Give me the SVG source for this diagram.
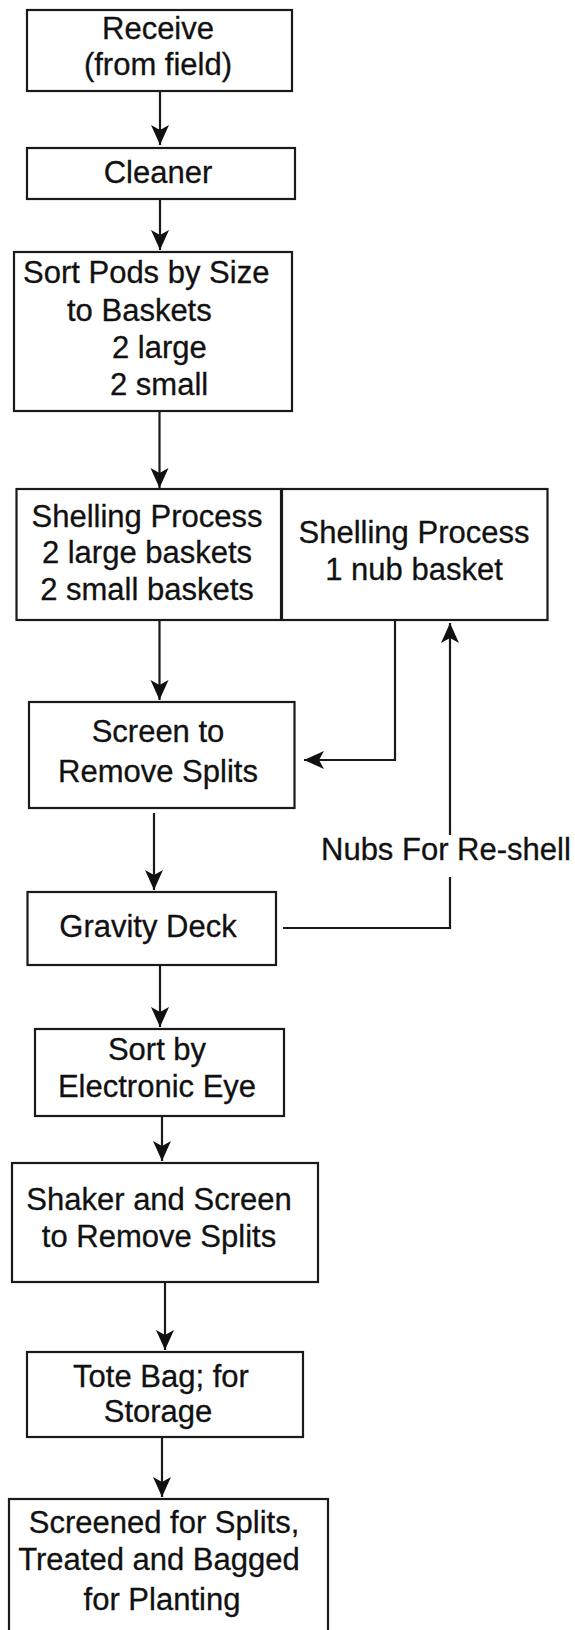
<svg xmlns="http://www.w3.org/2000/svg" width="575" height="1630" viewBox="0 0 575 1630">
<style>
.box{fill:#fff;stroke:#1a1a1a;stroke-width:2.2}
.t{font-family:"Liberation Sans",Arial,Helvetica,sans-serif;font-size:31px;fill:#111;text-anchor:middle;stroke:#111;stroke-width:0.3}
.ts{font-family:"Liberation Sans",Arial,Helvetica,sans-serif;font-size:31px;fill:#111;text-anchor:start;stroke:#111;stroke-width:0.3}
.c{fill:none;stroke:#1a1a1a;stroke-width:2.2}
</style>
<defs>
<marker id="ah" markerWidth="22" markerHeight="20" refX="20" refY="9" orient="auto" markerUnits="userSpaceOnUse">
<path d="M0,0 L20,9 L0,18 L5,9 Z" fill="#111"/>
</marker>
</defs>
<rect width="575" height="1630" fill="#fff"/>
<g id="connectors">
<path class="c" d="M160,91 V145" marker-end="url(#ah)"/>
<path class="c" d="M160,199 V250" marker-end="url(#ah)"/>
<path class="c" d="M159.5,411 V488" marker-end="url(#ah)"/>
<path class="c" d="M159.5,620 V700" marker-end="url(#ah)"/>
<path class="c" d="M395,620 V760 H304" marker-end="url(#ah)"/>
<path class="c" d="M154,813 V890" marker-end="url(#ah)"/>
<path class="c" d="M283,928 H450 V877 M450,835 V623" marker-end="url(#ah)"/>
<path class="c" d="M160,965 V1027" marker-end="url(#ah)"/>
<path class="c" d="M162,1116 V1161" marker-end="url(#ah)"/>
<path class="c" d="M165,1282 V1350" marker-end="url(#ah)"/>
<path class="c" d="M162,1437 V1497" marker-end="url(#ah)"/>
<text class="ts" x="321" y="860">Nubs For Re-shell</text>
</g>
<g id="receive">
<rect class="box" x="27" y="10" width="265" height="81"/>
<text class="t" x="158" y="39">Receive</text>
<text class="t" x="158" y="75">(from field)</text>
</g>
<g id="cleaner">
<rect class="box" x="27" y="148" width="268" height="51"/>
<text class="t" x="158" y="183">Cleaner</text>
</g>
<g id="sort-pods">
<rect class="box" x="14" y="252" width="278" height="159"/>
<text class="ts" x="23" y="283">Sort Pods by Size</text>
<text class="ts" x="67" y="321">to Baskets</text>
<text class="ts" x="112" y="358">2 large</text>
<text class="ts" x="110" y="395">2 small</text>
</g>
<g id="shelling-main">
<rect class="box" x="16.5" y="489" width="264.5" height="131"/>
<text class="t" x="147" y="527">Shelling Process</text>
<text class="t" x="147" y="563">2 large baskets</text>
<text class="t" x="147" y="600">2 small baskets</text>
</g>
<g id="shelling-nub">
<rect class="box" x="282" y="489" width="265.5" height="131"/>
<text class="t" x="414" y="543">Shelling Process</text>
<text class="t" x="414" y="580">1 nub basket</text>
</g>
<g id="screen">
<rect class="box" x="29" y="702" width="265.5" height="106"/>
<text class="t" x="158" y="742">Screen to</text>
<text class="t" x="158" y="782">Remove Splits</text>
</g>
<g id="gravity">
<rect class="box" x="27.5" y="892" width="248.5" height="73"/>
<text class="t" x="148" y="937">Gravity Deck</text>
</g>
<g id="eye">
<rect class="box" x="35" y="1029" width="249" height="87"/>
<text class="t" x="157" y="1060">Sort by</text>
<text class="t" x="157" y="1097">Electronic Eye</text>
</g>
<g id="shaker">
<rect class="box" x="12" y="1163" width="306" height="119"/>
<text class="t" x="159" y="1210">Shaker and Screen</text>
<text class="t" x="159" y="1247">to Remove Splits</text>
</g>
<g id="tote">
<rect class="box" x="27" y="1352" width="276" height="85"/>
<text class="t" x="161" y="1387">Tote Bag; for</text>
<text class="t" x="158" y="1422">Storage</text>
</g>
<g id="screened">
<rect class="box" x="9" y="1499" width="319" height="140"/>
<text class="t" x="164" y="1533">Screened for Splits,</text>
<text class="t" x="159" y="1570">Treated and Bagged</text>
<text class="t" x="162" y="1610">for Planting</text>
</g>
</svg>
